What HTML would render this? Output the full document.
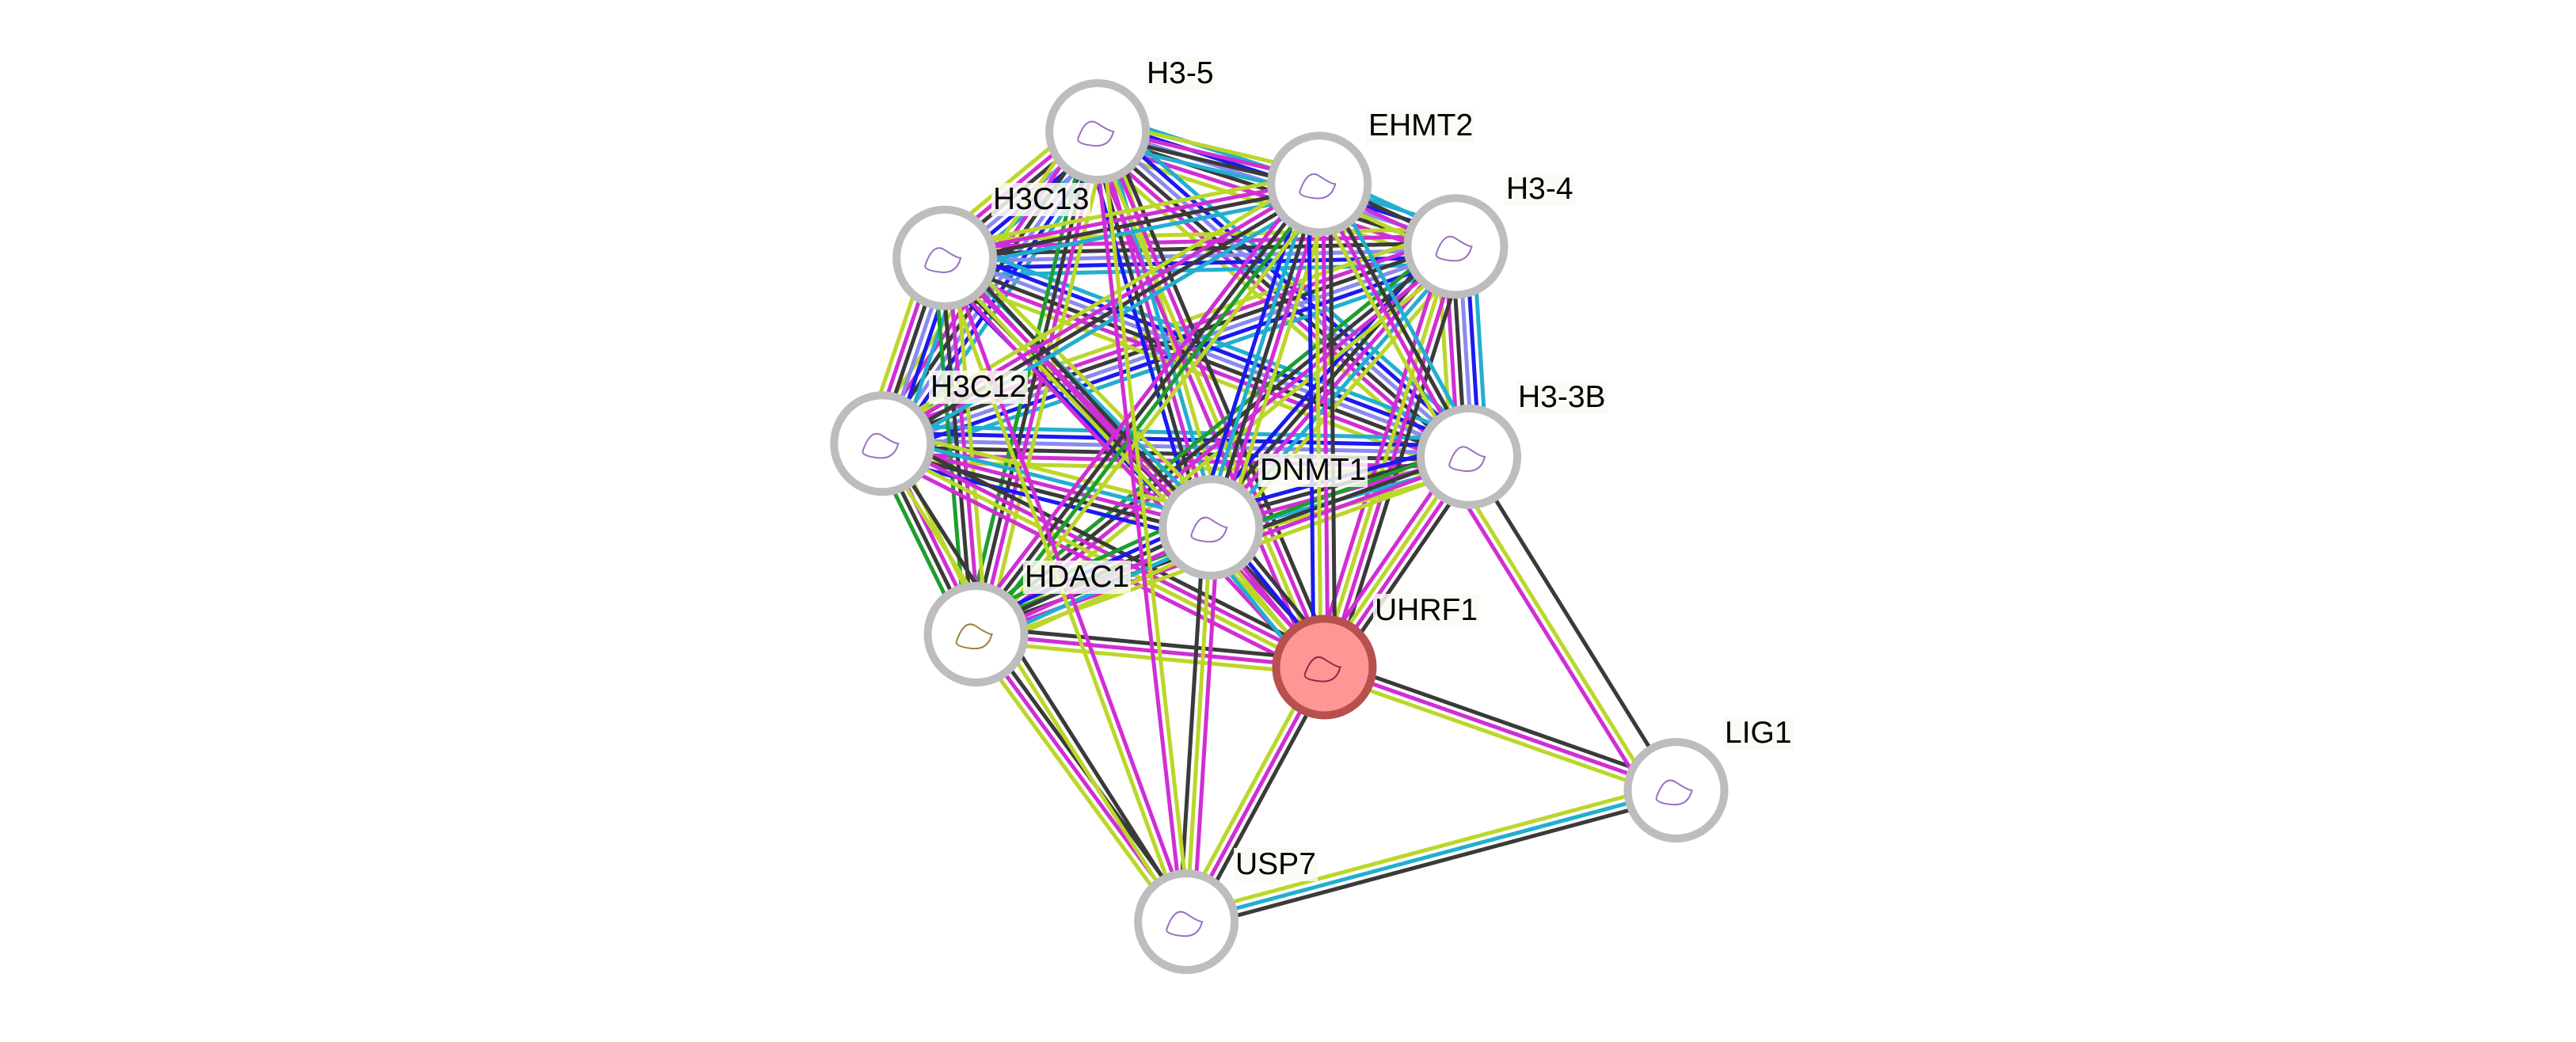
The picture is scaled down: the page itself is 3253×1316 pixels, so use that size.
<!DOCTYPE html>
<html><head><meta charset="utf-8"><style>
html,body{margin:0;padding:0;background:#fff;}
#wrap{position:relative;width:3253px;height:1316px;overflow:hidden;background:#fff;}
svg{position:absolute;left:0;top:0;}
.lb{position:absolute;font-family:"Liberation Sans",sans-serif;font-size:39px;color:#000;line-height:42px;background:rgba(250,250,245,0.85);padding:0 2px;white-space:nowrap;}
</style></head><body><div id="wrap">
<svg id="g" width="3253" height="1316" xmlns="http://www.w3.org/2000/svg"><g id="edges"></g><g id="nodes"></g></svg>
<div class="lb" style="left:1446px;top:72px">H3-5</div>
<div class="lb" style="left:1726px;top:138px">EHMT2</div>
<div class="lb" style="left:1900px;top:218px">H3-4</div>
<div class="lb" style="left:1252px;top:231px">H3C13</div>
<div class="lb" style="left:1173px;top:468px">H3C12</div>
<div class="lb" style="left:1915px;top:481px">H3-3B</div>
<div class="lb" style="left:1589px;top:573px">DNMT1</div>
<div class="lb" style="left:1292px;top:708px">HDAC1</div>
<div class="lb" style="left:1734px;top:750px">UHRF1</div>
<div class="lb" style="left:2176px;top:905px">LIG1</div>
<div class="lb" style="left:1558px;top:1071px">USP7</div>
</div>
<script>
var S=2.075;
var N={H35:[668,80],EH:[803,112],H34:[886,150],H13:[575,157],H12:[537,270],H3B:[894,278],DN:[737,321],HD:[594,386],UH:[806,406],LG:[1020,481],US:[722,561]};
for(var k in N){N[k]=[N[k][0]*S,N[k][1]*S];}
var K='#3a3a3a',L='#bcd62a',M='#d02ed4',C='#22aed0',B='#1a1af0',G='#1e9e2e',LB='#8a8af0';
var E=[];
var hist=['H35','H34','H13','H12','H3B'];
var others=['EH','DN','HD','UH'];
for(var i=0;i<hist.length;i++)for(var j=i+1;j<hist.length;j++)E.push([hist[i],hist[j],[C,B,LB,K,M,L]]);
for(var i=0;i<hist.length;i++)for(var j=0;j<others.length;j++){
  var o=others[j];
  var cs=o=='UH'?[K,M,L,M]:o=='EH'?[L,M,K,C]:o=='DN'?[L,C,M,K,B]:[L,M,K,G];
  E.push([hist[i],o,cs]);}
E.push(['EH','DN',[L,M,K,C,B]]);E.push(['EH','HD',[L,G,K,M]]);E.push(['EH','UH',[K,M,L,B]]);
E.push(['DN','HD',[L,C,M,K,B,G]]);E.push(['DN','UH',[K,B,M,L,C]]);E.push(['HD','UH',[K,M,L]]);
E.push(['UH','LG',[K,M,L]]);E.push(['UH','US',[K,M,L]]);E.push(['US','LG',[L,C,K]]);
E.push(['H3B','LG',[K]]);E.push(['H3B','LG2',[L,M]]);
E.push(['HD','US',[K,M,L]]);E.push(['H12','US',[K,L]]);E.push(['DN','US',[M,L,K]]);E.push(['H13','US',[M,L]]);E.push(['H35','US',[L,M]]);
var h='';
E.forEach(function(e){
  var a=N[e[0]],b=N[e[1]],shift=0;
  if(e[1]=='LG2'){b=N.LG;shift=30;}
  var dx=b[0]-a[0],dy=b[1]-a[1],l=Math.hypot(dx,dy),px=-dy/l,py=dx/l,n=e[2].length;
  e[2].forEach(function(c,i){var o=(i-(n-1)/2)*9+shift;
    h+='<line x1="'+(a[0]+px*o)+'" y1="'+(a[1]+py*o)+'" x2="'+(b[0]+px*o)+'" y2="'+(b[1]+py*o)+'" stroke="'+c+'" stroke-width="5"/>';});
});
document.getElementById('edges').innerHTML=h;
var nh='';
for(var k in N){var p=N[k],red=k=='UH';
  nh+='<circle cx="'+p[0]+'" cy="'+p[1]+'" r="61" fill="'+(red?'#fe9696':'#fff')+'" stroke="'+(red?'#b85050':'#bdbdbd')+'" stroke-width="10"/>';
  nh+='<path d="M'+(p[0]-25)+' '+(p[1]+10)+' q10 -30 25 -20 t20 10 q-5 20 -25 18 t-20 -8" fill="none" stroke="'+(red?'#a02050':(k=='HD'?'#a08040':'#9a70c0'))+'" stroke-width="2"/>';}
document.getElementById('nodes').innerHTML=nh;
</script>
</body></html>
